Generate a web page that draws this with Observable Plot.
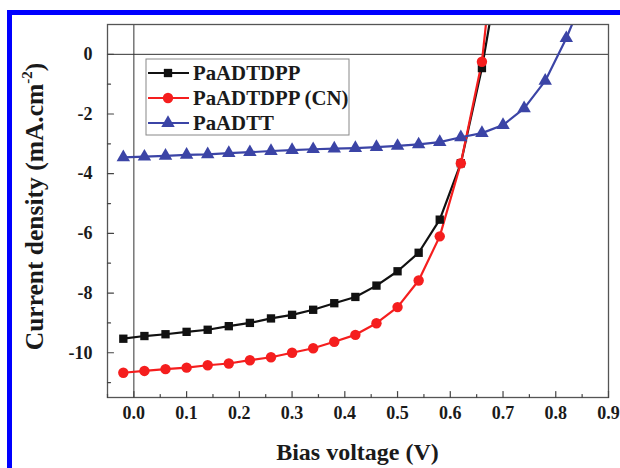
<!DOCTYPE html>
<html><head><meta charset="utf-8">
<script src="https://cdn.jsdelivr.net/npm/d3@7"></script>
<script src="https://cdn.jsdelivr.net/npm/@observablehq/plot@0.6"></script>
<style>
body{margin:0;background:#fff;}
#wrap{position:relative;width:620px;height:468px;overflow:hidden;background:#fff;}
#wrap svg{position:absolute;left:0;top:0;}
.bl{position:absolute;background:#0000ff;z-index:5;}
</style></head><body>
<div id="wrap"></div>
<script>
// ---- data ----
const seriesNames = ["PaADTDPP", "PaADTDPP (CN)", "PaADTT"];
const seriesColors = ["#111111", "#f51e1e", "#3b44a6"];

// bias voltage (V) and current density (mA/cm^2); last point of each leaves the frame (clipped)
const vPaADTDPP = [-0.02, 0.02, 0.06, 0.10, 0.14, 0.18, 0.22, 0.26, 0.30, 0.34, 0.38, 0.42, 0.46, 0.50, 0.54, 0.58, 0.62, 0.66, 0.68];
const jPaADTDPP = [-9.53, -9.44, -9.38, -9.30, -9.23, -9.11, -9.00, -8.85, -8.73, -8.56, -8.34, -8.13, -7.75, -7.27, -6.65, -5.54, -3.65, -0.46, 1.6];

const vPaADTDPPCN = [-0.02, 0.02, 0.06, 0.10, 0.14, 0.18, 0.22, 0.26, 0.30, 0.34, 0.38, 0.42, 0.46, 0.50, 0.54, 0.58, 0.62, 0.66, 0.67];
const jPaADTDPPCN = [-10.67, -10.61, -10.55, -10.50, -10.42, -10.36, -10.25, -10.15, -10.00, -9.85, -9.63, -9.40, -9.01, -8.47, -7.58, -6.10, -3.65, -0.25, 1.4];

const vPaADTT = [-0.02, 0.02, 0.06, 0.10, 0.14, 0.18, 0.22, 0.26, 0.30, 0.34, 0.38, 0.42, 0.46, 0.50, 0.54, 0.58, 0.62, 0.66, 0.70, 0.74, 0.78, 0.82, 0.845];
const jPaADTT = [-3.45, -3.43, -3.40, -3.37, -3.35, -3.31, -3.28, -3.24, -3.21, -3.18, -3.16, -3.14, -3.11, -3.07, -3.02, -2.94, -2.78, -2.64, -2.37, -1.81, -0.89, 0.54, 1.6];

const xMajorTicks = [0.0, 0.1, 0.2, 0.3, 0.4, 0.5, 0.6, 0.7, 0.8, 0.9];
const xMinorTicks = [-0.05, 0.05, 0.15, 0.25, 0.35, 0.45, 0.55, 0.65, 0.75, 0.85];
const yMajorTicks = [0, -2, -4, -6, -8, -10];
const yMinorTicks = [-1, -3, -5, -7, -9, -11];

const xTitle = "Bias voltage (V)";
const yTitleMain = "Current density (mA.cm";
const yTitleSup = "-2";
const yTitleEnd = ")";

// ---- build tables ----
const mk = (name, vs, js) => vs.map((v, i) => ({series: name, v, j: js[i]}));
const dA = mk(seriesNames[0], vPaADTDPP, jPaADTDPP);
const dB = mk(seriesNames[1], vPaADTDPPCN, jPaADTDPPCN);
const dC = mk(seriesNames[2], vPaADTT, jPaADTT);
const rows = [...dA, ...dB, ...dC];

const FONT = "'Liberation Serif', 'Times New Roman', serif";
const TXT = "#1a1a1a";
const xDom = [-0.05, 0.9], yDom = [-11.5, 1];
const symR = [4.7, 5.2, 5.0];

// inward tick shape for Plot.vector
const tickShape = {draw(ctx, l) { ctx.moveTo(0, 0); ctx.lineTo(0, -l); }};

const plot = Plot.plot({
  width: 620, height: 468,
  marginTop: 24, marginRight: 12, marginBottom: 71, marginLeft: 107,
  style: {fontFamily: FONT, fontWeight: "bold", color: TXT, background: "transparent"},
  x: {domain: xDom, axis: null},
  y: {domain: yDom, axis: null},
  color: {domain: seriesNames, range: seriesColors},
  marks: [
    Plot.ruleX([0], {stroke: "#333", strokeWidth: 1}),
    Plot.ruleY([0], {stroke: "#333", strokeWidth: 1}),
    Plot.line(rows, {x: "v", y: "j", z: "series", stroke: "series", strokeWidth: 2.2, clip: true}),
    Plot.dot(dA, {x: "v", y: "j", symbol: "square", fill: seriesColors[0], r: symR[0], clip: true}),
    Plot.dot(dB, {x: "v", y: "j", symbol: "circle", fill: seriesColors[1], r: symR[1], clip: true}),
    Plot.dot(dC, {x: "v", y: "j", symbol: "triangle", fill: seriesColors[2], r: symR[2], clip: true}),
    Plot.frame({stroke: "#555", strokeWidth: 1.3}),
    Plot.axisX({ticks: xMajorTicks, tickSize: 0, tickPadding: 9, tickFormat: d => d.toFixed(1), fontSize: 18, label: null}),
    Plot.axisY({ticks: yMajorTicks, tickSize: 0, tickPadding: 15, tickFormat: d => String(d), fontSize: 18, label: null}),
    Plot.vector(xMajorTicks, {x: d => d, y: yDom[0], length: 6, rotate: 0, anchor: "start", shape: tickShape, stroke: "#444", strokeWidth: 1.2}),
    Plot.vector(xMinorTicks, {x: d => d, y: yDom[0], length: 3, rotate: 0, anchor: "start", shape: tickShape, stroke: "#444", strokeWidth: 1.2}),
    Plot.vector(yMajorTicks, {x: xDom[0], y: d => d, length: 6, rotate: 90, anchor: "start", shape: tickShape, stroke: "#444", strokeWidth: 1.2}),
    Plot.vector(yMinorTicks, {x: xDom[0], y: d => d, length: 3, rotate: 90, anchor: "start", shape: tickShape, stroke: "#444", strokeWidth: 1.2})
  ]
});

const wrap = document.getElementById("wrap");
wrap.appendChild(plot);

// ---- titles & legend ----
const svg = d3.select(plot);
const xs = plot.scale("x"), ys = plot.scale("y");
const xMid = (xs.range[0] + xs.range[1]) / 2;
const yMid = (ys.range[0] + ys.range[1]) / 2;

svg.append("text")
  .attr("x", xMid).attr("y", 460)
  .attr("text-anchor", "middle")
  .attr("font-family", FONT).attr("font-weight", "bold").attr("font-size", 24)
  .attr("fill", TXT)
  .text(xTitle);

const yt = svg.append("text")
  .attr("transform", `translate(43,${yMid - 4}) rotate(-90)`)
  .attr("text-anchor", "middle")
  .attr("font-family", FONT).attr("font-weight", "bold").attr("font-size", 25.5)
  .attr("fill", TXT);
yt.append("tspan").text(yTitleMain);
yt.append("tspan").attr("font-size", 15).attr("dy", -11).text(yTitleSup);
yt.append("tspan").attr("dy", 11).text(yTitleEnd);

const lg = svg.append("g");
lg.append("rect").attr("x", 146).attr("y", 59).attr("width", 203).attr("height", 76)
  .attr("fill", "#fff").attr("stroke", "#888").attr("stroke-width", 1);
const symbols = [d3.symbolSquare, d3.symbolCircle, d3.symbolTriangle];
const rowY = [73, 98, 123];
seriesNames.forEach((name, i) => {
  const y = rowY[i];
  lg.append("line").attr("x1", 148).attr("x2", 189).attr("y1", y).attr("y2", y)
    .attr("stroke", seriesColors[i]).attr("stroke-width", 2.2);
  lg.append("path").attr("transform", `translate(168,${y})`)
    .attr("d", d3.symbol(symbols[i], Math.PI * symR[i] * symR[i])())
    .attr("fill", seriesColors[i]);
  lg.append("text").attr("x", 193).attr("y", y + 7)
    .attr("text-anchor", "start")
    .attr("font-family", FONT).attr("font-weight", "bold").attr("font-size", 20.8)
    .attr("fill", TXT).text(name);
});

// blue outer frame (image border)
const barTop = document.createElement("div"); barTop.className = "bl";
Object.assign(barTop.style, {left: "7px", top: "10px", width: "613px", height: "5px"});
const barLeft = document.createElement("div"); barLeft.className = "bl";
Object.assign(barLeft.style, {left: "7px", top: "10px", width: "5px", height: "458px"});
wrap.appendChild(barTop); wrap.appendChild(barLeft);
</script>
</body></html>
